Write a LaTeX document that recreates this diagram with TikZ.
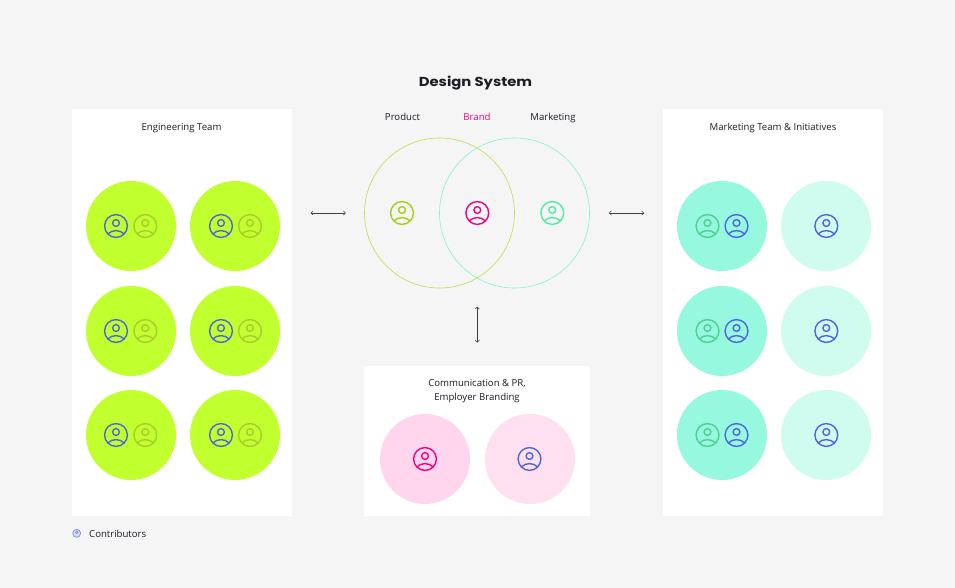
\documentclass[tikz,border=0pt]{standalone}
\usepackage{xcolor}
\usepackage{fontspec}
\usetikzlibrary{arrows.meta}
\setmainfont{Open Sans}
\newfontfamily\titlefont[FakeStretch=1.14]{Poppins}
\definecolor{pagegray}{HTML}{F5F5F5}
\definecolor{limedisc}{HTML}{C2FF2E}
\definecolor{tealdisc}{HTML}{96F8DF}
\definecolor{tealpale}{HTML}{CFFCEF}
\definecolor{pinkdisc}{HTML}{FFD6EE}
\definecolor{pinkpale}{HTML}{FFE0F0}
\definecolor{brandpink}{HTML}{F0047F}
\definecolor{iconblue}{HTML}{4D66DD}
\definecolor{iconolive}{HTML}{A9CC2E}
\definecolor{iconlime}{HTML}{A5CF12}
\definecolor{iconmint}{HTML}{52EBA9}
\definecolor{icongreen}{HTML}{4FD08F}
\definecolor{ringlime}{HTML}{BCE04A}
\definecolor{ringmint}{HTML}{7FF5CC}
\definecolor{inkdark}{HTML}{1C1C28}
\tikzset{
    panel/.style={fill=white, inner sep=0pt},
    disc/.style={circle, inner sep=0pt, minimum size=90pt},
    ring/.style={circle, draw, inner sep=0pt, minimum size=150pt, line width=0.6pt},
    label/.style={font=\fontsize{9.6}{14}\selectfont, text=inkdark, align=center},
    link/.style={{To[length=2.6pt,width=4.6pt]}-{To[length=2.6pt,width=4.6pt]}, line width=0.5pt, draw=inkdark!85},
    pics/person/.style={code={
        \draw[pic actions, line width=1.4pt] (0,0) circle (11.4);
        \draw[pic actions, line width=1.4pt] (0,-3) circle (3.4);
        \draw[pic actions, line width=1.4pt] (-8.2,8) .. controls (-4,3.5) and (4,3.5) .. (8.2,8);
    }}
}
\begin{document}
\begin{tikzpicture}[x=1pt, y=-1pt]
        \useasboundingbox (0,0) rectangle (955,588);
        \fill[pagegray] (0,0) rectangle (955,588);
        % panels
        \node[panel, minimum width=220pt, minimum height=407pt] (engpanel) at (182,312.5) {};
        \node[panel, minimum width=220pt, minimum height=407pt] (mktpanel) at (773,312.5) {};
        \node[panel, minimum width=226pt, minimum height=150pt] (companel) at (477,441) {};
        % titles
        \node[font=\titlefont\bfseries\fontsize{13}{15}\selectfont, text=inkdark] (title) at (475.5,83.5) {Design System};
        \node[label, anchor=base] (englabel) at (181.5,130.5) {Engineering Team};
        \node[label, anchor=base] (mktlabel) at (773,130.5) {Marketing Team \& Initiatives};
        \node[label, anchor=base] (product) at (402.5,120.5) {Product};
        \node[label, anchor=base, text=brandpink] (brand) at (477,120.5) {Brand};
        \node[label, anchor=base] (marketing) at (553,120.5) {Marketing};
        \node[label] (comlabel) at (477,391) {Communication \& PR,\\Employer Branding};
        % discs in the side panels
        \foreach \row/\y in {1/226, 2/331, 3/435} {
            \node[disc, fill=limedisc] (engl\row) at (131,\y) {};
            \node[disc, fill=limedisc] (engr\row) at (235,\y) {};
            \node[disc, fill=tealdisc] (mktl\row) at (722,\y) {};
            \node[disc, fill=tealpale] (mktr\row) at (826,\y) {};
            \pic[draw=iconblue] at (116,\y) {person};
            \pic[draw=iconolive] at (145.3,\y) {person};
            \pic[draw=iconblue] at (221,\y) {person};
            \pic[draw=iconolive] at (250,\y) {person};
            \pic[draw=icongreen] at (707.5,\y) {person};
            \pic[draw=iconblue] at (736.5,\y) {person};
            \pic[draw=iconblue] at (826.3,\y) {person};
        }
        % venn
        \node[ring, draw=ringlime] (productring) at (439.5,213) {};
        \node[ring, draw=ringmint] (marketingring) at (514.5,213) {};
        \pic[draw=iconlime] at (402,213) {person};
        \pic[draw=brandpink] at (477.3,213) {person};
        \pic[draw=iconmint] at (552.3,213) {person};
        % bottom panel
        \node[disc, fill=pinkdisc] (comleft) at (425,459) {};
        \node[disc, fill=pinkpale] (comright) at (530,459) {};
        \pic[draw=brandpink] at (425,459) {person};
        \pic[draw=iconblue] at (529.5,459) {person};
        % arrows
        \coordinate (leftA) at (310.7,213);
        \coordinate (leftB) at (345.7,213);
        \coordinate (rightA) at (609,213);
        \coordinate (rightB) at (644,213);
        \coordinate (downA) at (477.3,306.7);
        \coordinate (downB) at (477.3,342.5);
        \draw[link] (leftA) -- (leftB);
        \draw[link] (rightA) -- (rightB);
        \draw[link] (downA) -- (downB);
        % legend
        \node[circle, fill=iconblue!25, draw=iconblue!80, line width=0.6pt, inner sep=0pt, minimum size=8pt] (legendicon) at (76.7,533.3) {};
        \node[circle, draw=iconblue!80, line width=0.5pt, inner sep=0pt, minimum size=2.5pt] (legendhead) at (76.7,532.2) {};
        \node[label, anchor=west, inner sep=0pt] (legend) at (89,533.5) {Contributors};
    \end{tikzpicture}
\end{document}
